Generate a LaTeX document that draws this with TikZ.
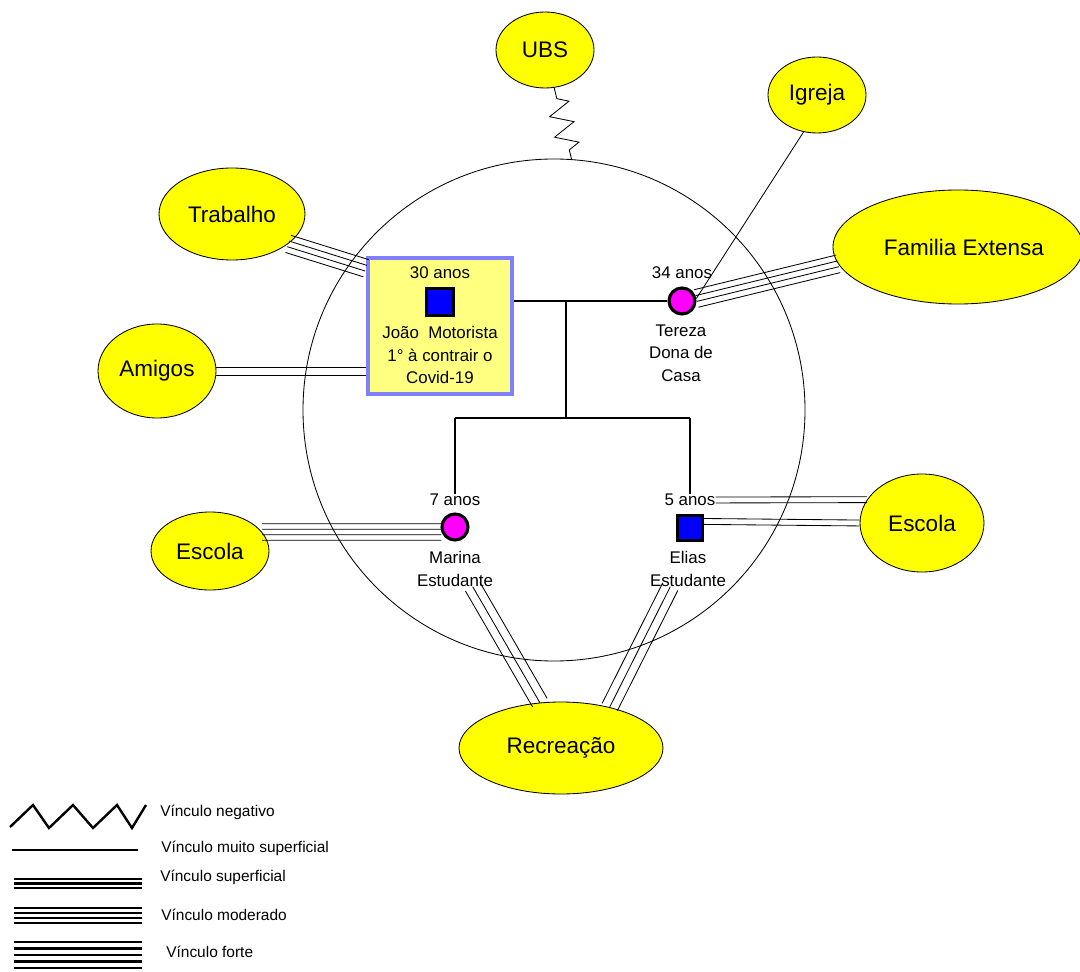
\documentclass[tikz,border=0pt]{standalone}
\usepackage{fontspec}
\setmainfont{Liberation Sans}
\usetikzlibrary{calc,shapes.geometric,decorations.pathmorphing}
\definecolor{RedeClr}{rgb}{1,1,0}
\definecolor{CaixaClr}{rgb}{1,1,0.5}
\definecolor{BordaClr}{rgb}{0.5,0.5,1}
\definecolor{HomemClr}{rgb}{0,0,1}
\definecolor{MulherClr}{rgb}{1,0,1}
\newdimen\pix \pix=0.025cm

\tikzset{
  rede/.style={ellipse,draw=black,line width=0.6pt,fill=RedeClr,inner xsep=-6pt,inner ysep=0pt,
    font=\fontsize{16}{19}\selectfont},
  homem/.style={rectangle,draw=black,line width=2.2pt,fill=HomemClr,inner sep=0pt},
  mulher/.style={circle,draw=black,line width=2.2pt,fill=MulherClr,minimum size=26\pix,inner sep=0pt},
  rotulo/.style={font=\fontsize{12}{16}\selectfont,align=center,inner sep=0pt},
  laco/.style={line width=1.6pt},
  elo/.style={line width=0.6pt},
  negativo/.style={elo,decorate,decoration={zigzag,segment length=15pt,amplitude=8pt,
    pre length=8pt,post length=6pt}},
  legenda/.style={line width=1.7pt},
  legtxt/.style={anchor=west,inner sep=0pt,font=\fontsize{11}{13}\selectfont}
}

% linhas paralelas entre dois pontos
\newcommand{\vinculo}[3]{\foreach \d in {#1}
  \draw[elo] ($(#2)!\d pt!90:(#3)$) -- ($(#3)!\d pt!-90:(#2)$);}

\begin{document}
\begin{tikzpicture}[x=0.025cm,y=-0.025cm]
\useasboundingbox (0,0) rectangle (1080,972);

\node[circle,draw,line width=0.6pt,minimum size=502\pix,inner sep=0pt] (casa) at (554,410) {};

% rede externa
\node[rede,minimum width=98\pix,minimum height=76\pix] (ubs) at (545,50) {UBS};
\node[rede,minimum width=98\pix,minimum height=76\pix] (igreja) at (817,95) {Igreja};
\node[rede,minimum width=146\pix,minimum height=92\pix] (trabalho) at (232,214) {Trabalho};
\node[rede,minimum width=118\pix,minimum height=94\pix] (amigos) at (157,371) {Amigos};
\node[rede,minimum width=250\pix,minimum height=114\pix] (familia) at (958,247) {\hspace*{12\pix}Familia Extensa};
\node[rede,minimum width=118\pix,minimum height=78\pix] (escolaM) at (210,551) {Escola};
\node[rede,minimum width=124\pix,minimum height=98\pix] (escolaE) at (922,523) {Escola};
\node[rede,minimum width=204\pix,minimum height=92\pix] (recreacao) at (561,748) {Recreação};

% familia nuclear
\node[rectangle,draw=BordaClr,line width=2.8pt,fill=CaixaClr,minimum width=144\pix,
  minimum height=136\pix] (caixa) at (440,326) {};
\node[homem,minimum size=27\pix] (joao) at (440,302) {};
\node[rotulo] (idadeJ) at (440,273) {30 anos};
\node[rotulo] (nomeJ) at (440,355) {João\ \ Motorista\\1° à contrair o\\Covid-19};

\node[mulher] (tereza) at (682,301) {};
\node[rotulo] (idadeT) at (682,273) {34 anos};
\node[rotulo] (nomeT) at (681,353) {Tereza\\Dona de\\Casa};

\node[mulher] (marina) at (455,527) {};
\node[rotulo] (idadeM) at (455,500) {7 anos};
\node[rotulo] (nomeM) at (455,569) {Marina\\Estudante};

\node[homem,minimum size=25\pix] (elias) at (690,528) {};
\node[rotulo] (idadeE) at (690,500) {5 anos};
\node[rotulo] (nomeE) at (688,569) {Elias\\Estudante};

\coordinate (casal) at (566,301);
\coordinate (filhos) at (566,418);
\draw[laco] (caixa.east |- tereza) -- (tereza);
\draw[laco] (casal) -- (filhos);
\draw[laco] (marina |- filhos) -- (elias |- filhos);
\draw[laco] (marina |- filhos) -- (idadeM.north);
\draw[laco] (elias |- filhos) -- (idadeE.north);

% vinculos
\draw[negativo] (ubs) -- (casa.86);
\draw[elo] (igreja.250) -- (tereza.10);
\vinculo{-6.4,-2.1,2.1,6.4}{trabalho.-28}{caixa.142}
\vinculo{-2.85,2.85}{amigos.east}{caixa.west |- amigos.east}
\vinculo{-6.4,-2.1,2.1,6.4}{tereza.10}{familia.188}
\vinculo{-5.85,-1.95,1.95,5.85}{escolaM.20}{marina.200}
\vinculo{-2.1,2.1}{idadeE.east}{escolaE.157}
\vinculo{-2.1,2.1}{elias.25}{escolaE.west}
\vinculo{-6,0,6}{nomeM.-45}{recreacao.115}
\vinculo{-6,0,6}{nomeE.-135}{recreacao.40}

% legenda
\draw[legenda] (10,827) -- (33,805) -- (49,828) -- (73,805) -- (93,828) -- (117,805) -- (132,828) -- (146,805);
\draw[legenda] (12,850) -- (138,850);
\foreach \y in {879,883.5,888} \draw[legenda] (14,\y) -- (142,\y);
\foreach \y in {908,913,918,923} \draw[legenda] (14,\y) -- (142,\y);
\foreach \y in {942,948.5,955,961.5,968} \draw[legenda] (14,\y) -- (142,\y);
\node[legtxt] (legNeg) at (160,812) {Vínculo negativo};
\node[legtxt] (legMuito) at (161,848) {Vínculo muito superficial};
\node[legtxt] (legSup) at (160,877) {Vínculo superficial};
\node[legtxt] (legMod) at (161,915) {Vínculo moderado};
\node[legtxt] (legForte) at (166,952) {Vínculo forte};

\end{tikzpicture}
\end{document}
